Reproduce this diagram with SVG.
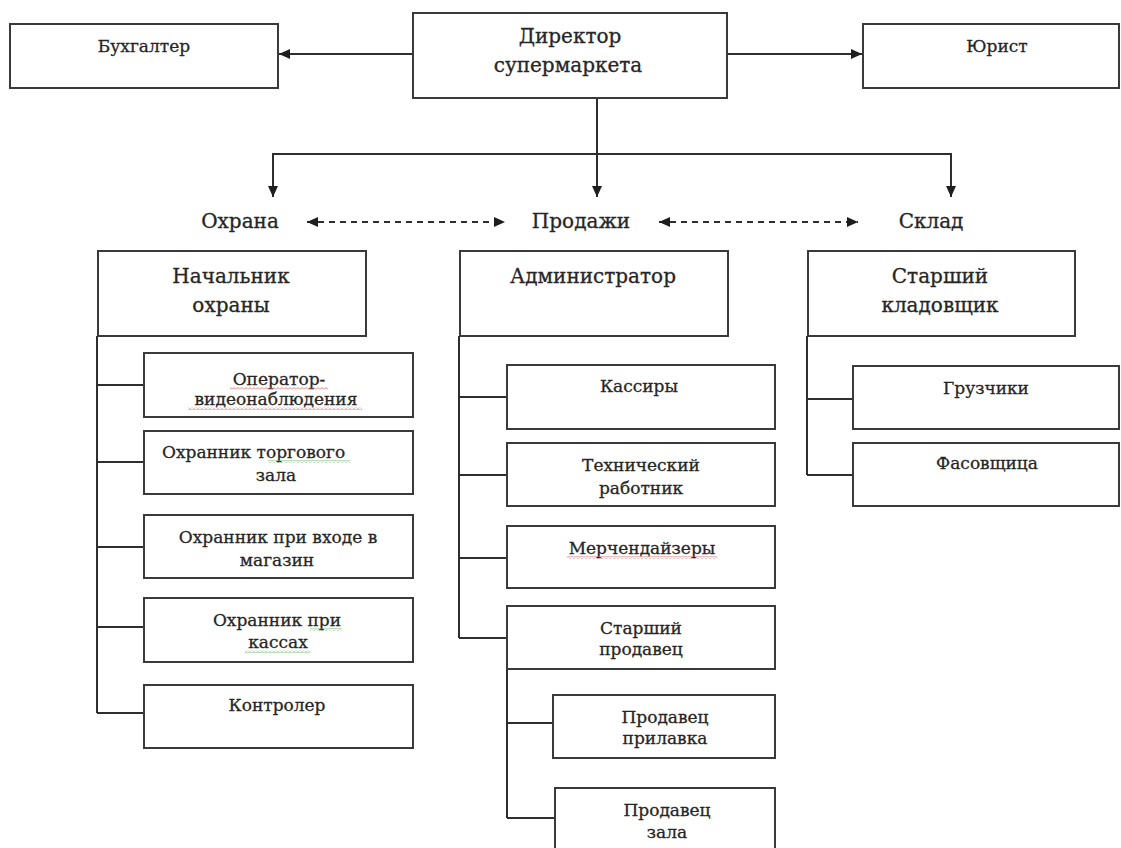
<svg xmlns="http://www.w3.org/2000/svg" width="1121" height="848" viewBox="0 0 1121 848">
<style>
  .box { fill: #ffffff; stroke: #3a3a3a; stroke-width: 2; }
  .ln { fill: none; stroke: #2e2e2e; stroke-width: 2; }
  .dash { fill: none; stroke: #2e2e2e; stroke-width: 1.8; stroke-dasharray: 6 5; }
  .t { font-family: "DejaVu Serif", "Liberation Serif", serif; fill: #262626; stroke: #262626; stroke-width: 0.3; text-anchor: middle; }
  .h { font-size: 20px; }
  .s { font-size: 17px; }
  .sec { font-size: 20px; }
</style>
<defs>
  <marker id="arr" markerUnits="userSpaceOnUse" markerWidth="12" markerHeight="10" refX="11" refY="5" orient="auto-start-reverse">
    <path d="M0,0 L11,5 L0,10 z" fill="#1e1e1e"/>
  </marker>
  <pattern id="wavyRed" patternUnits="userSpaceOnUse" width="4" height="3">
    <path d="M0,2.5 L2,0.5 L4,2.5" fill="none" stroke="#e06a6a" stroke-width="0.9"/>
  </pattern>
  <pattern id="wavyGreen" patternUnits="userSpaceOnUse" width="4" height="3">
    <path d="M0,2.5 L2,0.5 L4,2.5" fill="none" stroke="#6ab56a" stroke-width="0.9"/>
  </pattern>
</defs>
<rect width="1121" height="848" fill="#ffffff"/>

<g id="connectors">
  <line class="ln" x1="413" y1="54" x2="279" y2="54" marker-end="url(#arr)"/>
  <line class="ln" x1="727" y1="54" x2="862" y2="54" marker-end="url(#arr)"/>
  <line class="ln" x1="597" y1="98" x2="597" y2="197" marker-end="url(#arr)"/>
  <polyline class="ln" points="273,197 273,154 951,154 951,197"/>
  <line class="ln" x1="273" y1="154" x2="273" y2="197" marker-end="url(#arr)"/>
  <line class="ln" x1="951" y1="154" x2="951" y2="197" marker-end="url(#arr)"/>
  <line class="dash" x1="307" y1="222" x2="505" y2="222" marker-start="url(#arr)" marker-end="url(#arr)"/>
  <line class="dash" x1="659" y1="222" x2="858" y2="222" marker-start="url(#arr)" marker-end="url(#arr)"/>
  <path class="ln" d="M97,336 V713 M97,385 H144 M97,462 H144 M97,547 H144 M97,627 H144 M97,713 H144"/>
  <path class="ln" d="M459,336 V638 M459,397 H507 M459,475 H507 M459,558 H507 M459,638 H507"/>
  <path class="ln" d="M507,669 V818 M507,723 H553 M507,818 H555"/>
  <path class="ln" d="M807,336 V475 M807,399 H853 M807,475 H853"/>
</g>

<g id="n-buh"><rect class="box" x="10" y="24" width="268" height="64"/><text class="t s" x="144" y="52">Бухгалтер</text></g>
<g id="n-dir"><rect class="box" x="413" y="13" width="314" height="85"/><text class="t h" x="570" y="43">Директор</text><text class="t h" x="568" y="72">супермаркета</text></g>
<g id="n-yur"><rect class="box" x="863" y="24" width="256" height="64"/><text class="t s" x="997" y="52">Юрист</text></g>

<g id="n-ohrana"><text class="t sec" x="240" y="228">Охрана</text></g>
<g id="n-prodazhi"><text class="t sec" x="581" y="228">Продажи</text></g>
<g id="n-sklad"><text class="t sec" x="931" y="228">Склад</text></g>

<g id="n-nach"><rect class="box" x="98" y="251" width="268" height="85"/><text class="t h" x="231" y="283">Начальник</text><text class="t h" x="231" y="312">охраны</text></g>
<g id="n-admin"><rect class="box" x="460" y="251" width="268" height="85"/><text class="t h" x="593" y="283">Администратор</text></g>
<g id="n-stklad"><rect class="box" x="808" y="251" width="267" height="85"/><text class="t h" x="940" y="283">Старший</text><text class="t h" x="940" y="312">кладовщик</text></g>

<g id="n-oper"><rect class="box" x="144" y="353" width="269" height="64"/><text class="t s" x="279" y="385">Оператор-</text><text class="t s" x="276" y="405">видеонаблюдения</text>
  <rect x="230" y="387" width="98" height="3" fill="url(#wavyRed)"/><rect x="188" y="407" width="174" height="3" fill="url(#wavyRed)"/></g>
<g id="n-ohrtz"><rect class="box" x="144" y="431" width="269" height="63"/><text class="t s" x="162" y="458" style="text-anchor:start">Охранник торгового</text><text class="t s" x="276" y="481">зала</text>
  <rect x="268" y="460" width="82" height="3" fill="url(#wavyGreen)"/></g>
<g id="n-ohrvh"><rect class="box" x="144" y="515" width="269" height="63"/><text class="t s" x="278" y="543">Охранник при входе в</text><text class="t s" x="277" y="566">магазин</text></g>
<g id="n-ohrkas"><rect class="box" x="144" y="598" width="269" height="64"/><text class="t s" x="277" y="626">Охранник при</text><text class="t s" x="278" y="648">кассах</text>
  <rect x="310" y="628" width="32" height="3" fill="url(#wavyGreen)"/><rect x="245" y="650" width="65" height="3" fill="url(#wavyGreen)"/></g>
<g id="n-kontr"><rect class="box" x="144" y="685" width="269" height="63"/><text class="t s" x="277" y="711">Контролер</text></g>

<g id="n-kass"><rect class="box" x="507" y="365" width="268" height="64"/><text class="t s" x="639" y="392">Кассиры</text></g>
<g id="n-tech"><rect class="box" x="507" y="443" width="268" height="63"/><text class="t s" x="641" y="471">Технический</text><text class="t s" x="641" y="494">работник</text></g>
<g id="n-merch"><rect class="box" x="507" y="526" width="268" height="62"/><text class="t s" x="642" y="554">Мерчендайзеры</text>
  <rect x="567" y="556" width="150" height="3" fill="url(#wavyRed)"/></g>
<g id="n-stprod"><rect class="box" x="507" y="606" width="268" height="63"/><text class="t s" x="641" y="634">Старший</text><text class="t s" x="641" y="655">продавец</text></g>
<g id="n-prpril"><rect class="box" x="553" y="695" width="222" height="63"/><text class="t s" x="665" y="723">Продавец</text><text class="t s" x="665" y="744">прилавка</text></g>
<g id="n-przal"><rect class="box" x="555" y="788" width="220" height="66"/><text class="t s" x="667" y="816">Продавец</text><text class="t s" x="667" y="838">зала</text></g>

<g id="n-gruz"><rect class="box" x="853" y="366" width="266" height="63"/><text class="t s" x="986" y="394">Грузчики</text></g>
<g id="n-fas"><rect class="box" x="853" y="443" width="266" height="63"/><text class="t s" x="987" y="469">Фасовщица</text></g>
</svg>
